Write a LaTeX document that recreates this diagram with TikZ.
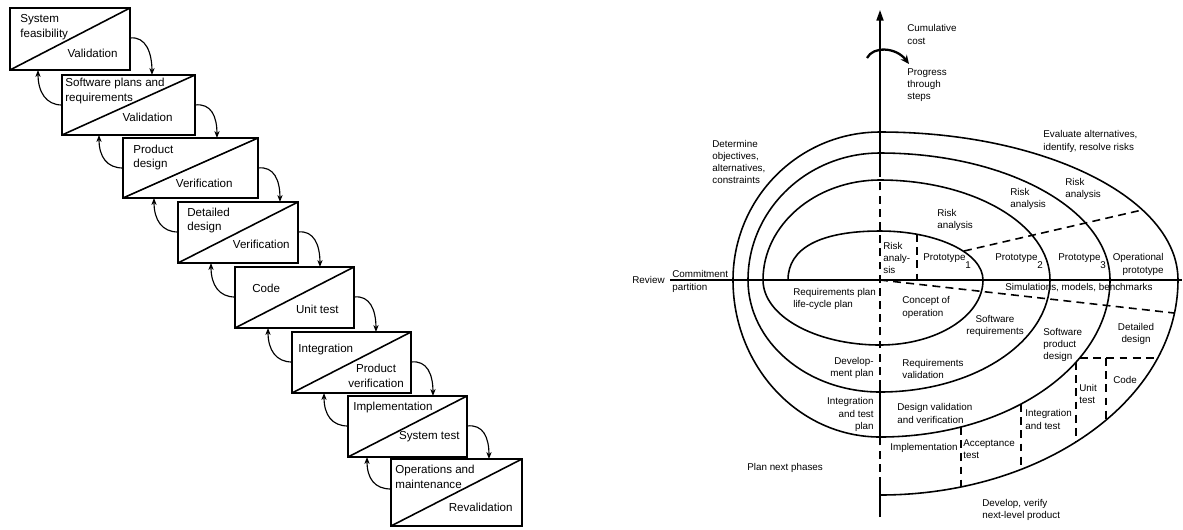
\documentclass[tikz,border=0pt]{standalone}
\usepackage{fontspec}
\setmainfont{Liberation Sans}
\usetikzlibrary{arrows.meta,calc}
\begin{document}
\begin{tikzpicture}[x=0.02cm,y=-0.02cm,
  stagebox/.style={draw, line width=1.1pt, rectangle, inner sep=0pt, outer sep=0pt, anchor=north west},
  stagediag/.style={line width=0.9pt},
  stagetext/.style={font=\fontsize{6.6}{8.4}\selectfont, inner sep=0pt, align=left},
  flowarrow/.style={line width=0.65pt, -{Stealth[length=4pt,width=3pt]}},
  spiral/.style={line width=0.9pt},
  partline/.style={line width=0.9pt, dash pattern=on 4.5pt off 3pt},
  lbl/.style={font=\fontsize{5.6}{6.9}\selectfont, inner sep=0pt, align=left},
]
\useasboundingbox (0,0) rectangle (1183,529);
\fill[white] (0,0) rectangle (1183,529);

% ---------------- waterfall stages ----------------
\node[stagebox, minimum width=2.40cm, minimum height=1.24cm] (b1) at (10,8) {};
\node[stagebox, minimum width=2.66cm, minimum height=1.20cm] (b2) at (62,75) {};
\node[stagebox, minimum width=2.70cm, minimum height=1.20cm] (b3) at (123,138) {};
\node[stagebox, minimum width=2.40cm, minimum height=1.22cm] (b4) at (178,202) {};
\node[stagebox, minimum width=2.38cm, minimum height=1.22cm] (b5) at (235,267) {};
\node[stagebox, minimum width=2.38cm, minimum height=1.22cm] (b6) at (292,332) {};
\node[stagebox, minimum width=2.38cm, minimum height=1.22cm] (b7) at (348,396) {};
\node[stagebox, minimum width=2.62cm, minimum height=1.34cm] (b8) at (391,459) {};

\foreach \b in {b1,b2,b3,b4,b5,b6,b7,b8}
  \draw[stagediag] (\b.south west) -- (\b.north east);

% stage texts
\node[stagetext, anchor=west] (t1a) at (20,27.5) {System\\feasibility};
\node[stagetext, anchor=east] (t1b) at (118,53) {Validation};
\node[stagetext, anchor=west] (t2a) at (65,91) {Software plans and\\requirements};
\node[stagetext, anchor=east] (t2b) at (173,117) {Validation};
\node[stagetext, anchor=west] (t3a) at (133,157.5) {Product\\design};
\node[stagetext, anchor=east] (t3b) at (233,183) {Verification};
\node[stagetext, anchor=west] (t4a) at (187,220.5) {Detailed\\design};
\node[stagetext, anchor=east] (t4b) at (290,244) {Verification};
\node[stagetext, anchor=west] (t5a) at (252,288) {Code};
\node[stagetext, anchor=east] (t5b) at (339,309) {Unit test};
\node[stagetext, anchor=west] (t6a) at (298,349) {Integration};
\node[stagetext, align=center] (t6b) at (376,375.5) {Product\\verification};
\node[stagetext, anchor=west] (t7a) at (353,407) {Implementation};
\node[stagetext, anchor=east] (t7b) at (460,437) {System test};
\node[stagetext, anchor=west] (t8a) at (395,476.5) {Operations and\\maintenance};
\node[stagetext, anchor=east] (t8b) at (513,507) {Revalidation};

% forward and feedback arrows between successive stages
\foreach \a/\n in {b1/b2,b2/b3,b3/b4,b4/b5,b5/b6,b6/b7,b7/b8}{
  \draw[flowarrow] ($(\a.north east)+(0,30)$) .. controls +(16,-2) and +(0,-22) .. ($(\a.east |- \n.north)+(22,0)$);
  \draw[flowarrow] ($(\n.north west)+(0,30)$) .. controls +(-16,0) and +(0,22) .. ($(\n.west |- \a.south)+(-24,0)$);
}

% ---------------- spiral model ----------------
\coordinate (axtop) at (880,10);
\coordinate (axbot) at (880,517);
\coordinate (hstart) at (670,280);
\coordinate (hend) at (1182,280);

% cumulative cost axis
\draw[spiral] (axbot) -- (880,485);
\draw[partline] (880,485) -- (880,437);
\draw[spiral] (880,437) -- (880,388);
\draw[partline] (880,388) -- (880,175);
\draw[spiral, -{Triangle[length=6pt,width=4pt]}] (880,175) -- (axtop);

% progress arrow round the axis
\draw[line width=1.3pt, -{Stealth[length=5pt,width=4.5pt]}] (867,58) .. controls (873,46) and (896,47) .. (909,64);

% review axis
\draw[spiral] (hstart) -- (hend);

% the spiral itself
\draw[spiral] (788,280)
 .. controls (788,248.2) and (820.2,231) .. (880,231)
 .. controls (936.9,231) and (983,253) .. (983,280)
 .. controls (983,315.9) and (936.9,345) .. (880,345)
 .. controls (815.4,345) and (763,315.9) .. (763,280)
 .. controls (763,224.8) and (815.4,180) .. (880,180)
 .. controls (973.9,180) and (1050,224.8) .. (1050,280)
 .. controls (1050,341.9) and (973.9,392) .. (880,392)
 .. controls (807.1,392) and (748,341.9) .. (748,280)
 .. controls (748,209.9) and (807.1,153) .. (880,153)
 .. controls (1007,153) and (1110,209.9) .. (1110,280)
 .. controls (1110,366.7) and (1007,437) .. (880,437)
 .. controls (798.8,437) and (733,366.7) .. (733,280)
 .. controls (733,198.3) and (798.8,132) .. (880,132)
 .. controls (1044.5,132) and (1178,198.3) .. (1178,280)
 .. controls (1178,398.7) and (1044.5,495) .. (880,495);

% partitions
\draw[partline] (917,234) -- (917,280);
\draw[partline] (964,251) -- (1142,210);
\draw[partline] (880,280) -- (1174,313);
\draw[partline] (1080,358) -- (1158,358);
\draw[partline] (1106,358) -- (1106,420);
\draw[partline] (1076,362) -- (1076,442);
\draw[partline] (1021,404) -- (1021,469);
\draw[partline] (961,427) -- (961,487);

% labels
\node[lbl, anchor=west] (l1) at (907,34.5) {Cumulative\\cost};
\node[lbl, anchor=west] (l2) at (907,85) {Progress\\through\\steps};
\node[lbl, anchor=west] (l3) at (712,162) {Determine\\objectives,\\alternatives,\\constraints};
\node[lbl, anchor=west] (l4) at (1043,141.5) {Evaluate alternatives,\\identify, resolve risks};
\node[lbl, anchor=west] (l5) at (937,220) {Risk\\analysis};
\node[lbl, anchor=west] (l6) at (1010,199) {Risk\\analysis};
\node[lbl, anchor=west] (l7) at (1065,189) {Risk\\analysis};
\node[lbl, anchor=west] (l8) at (883,258) {Risk\\analy-\\sis};
\node[lbl, anchor=base west] (l9) at (923,260.5) {Prototype\raisebox{-4.5pt}{1}};
\node[lbl, anchor=base west] (l10) at (995,260.5) {Prototype\raisebox{-4.5pt}{2}};
\node[lbl, anchor=base west] (l11) at (1058,260.5) {Prototype\raisebox{-4.5pt}{3}};
\node[lbl, anchor=east, align=right] (l12) at (1164,264.5) {Operational\\prototype};
\node[lbl, anchor=west] (l13) at (1005,288) {Simulations, models, benchmarks};
\node[lbl, anchor=west] (l14) at (902,307.5) {Concept of\\operation};
\node[lbl, align=center] (l15) at (995,326) {Software\\requirements};
\node[lbl, anchor=west] (l16) at (1043,345) {Software\\product\\design};
\node[lbl, align=center] (l17) at (1136,334) {Detailed\\design};
\node[lbl, anchor=west] (l18) at (902,369) {Requirements\\validation};
\node[lbl, anchor=west] (l19) at (897,413.5) {Design validation\\and verification};
\node[lbl, anchor=west] (l20) at (1025,419.5) {Integration\\and test};
\node[lbl, anchor=west] (l21) at (1079,394) {Unit\\test};
\node[lbl, anchor=west] (l22) at (1113,380) {Code};
\node[lbl, anchor=west] (l23) at (963,449) {Acceptance\\test};
\node[lbl, anchor=east] (l24) at (958,448) {Implementation};
\node[lbl, anchor=west] (l25) at (982,510) {Develop, verify\\next-level product};
\node[lbl, anchor=west] (l26) at (747,468) {Plan next phases};
\node[lbl, anchor=east, align=right] (l27) at (874,414.5) {Integration\\and test\\plan};
\node[lbl, anchor=east, align=right] (l28) at (874,368) {Develop-\\ment plan};
\node[lbl, anchor=west] (l29) at (793,299) {Requirements plan\\life-cycle plan};
\node[lbl, anchor=west] (l30) at (632,280) {Review};
\node[lbl, anchor=west] (l31) at (672,273.5) {Commitment};
\node[lbl, anchor=west] (l32) at (672,288) {partition};
\end{tikzpicture}
\end{document}
